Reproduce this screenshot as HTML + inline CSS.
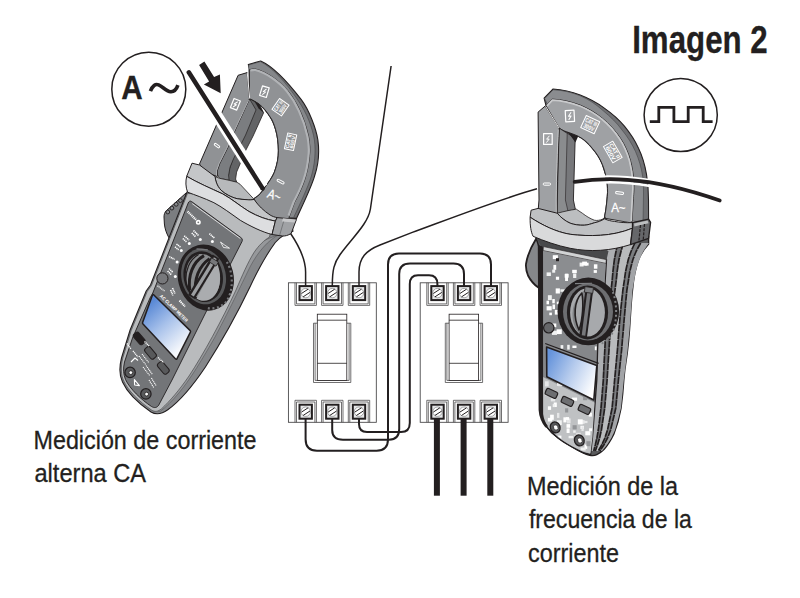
<!DOCTYPE html>
<html>
<head>
<meta charset="utf-8">
<title>Imagen 2</title>
<style>
html,body{margin:0;padding:0;background:#fff;}
body{width:800px;height:598px;overflow:hidden;font-family:"Liberation Sans",sans-serif;}
svg{display:block;position:absolute;left:0;top:0;}
text{font-family:"Liberation Sans",sans-serif;fill:#231f20;stroke:#231f20;stroke-width:0.3px;}
</style>
</head>
<body>
<svg width="800" height="598" viewBox="0 0 800 598">
<rect x="0" y="0" width="800" height="598" fill="#ffffff"/>

<!-- ================= TEXT ================= -->
<g id="texts">
<text x="632.2" y="52.5" font-size="38" font-weight="bold" textLength="135.5" lengthAdjust="spacingAndGlyphs">Imagen 2</text>
<text x="33.5" y="448.6" font-size="26.4" textLength="223" lengthAdjust="spacingAndGlyphs">Medición de corriente</text>
<text x="34.5" y="481.7" font-size="26.4" textLength="111.5" lengthAdjust="spacingAndGlyphs">alterna CA</text>
<text x="527" y="494.8" font-size="26.4" textLength="151" lengthAdjust="spacingAndGlyphs">Medición de la</text>
<text x="528.9" y="528.2" font-size="26.4" textLength="163" lengthAdjust="spacingAndGlyphs">frecuencia de la</text>
<text x="528" y="561.7" font-size="26.4" textLength="91" lengthAdjust="spacingAndGlyphs">corriente</text>
</g>

<!-- ================= SYMBOL CIRCLES ================= -->
<g id="symbols" fill="none" stroke="#231f20">
<circle cx="148.8" cy="89.2" r="37" stroke-width="1.5" fill="#fff"/>
<path d="M150.4,91.2 C152.5,85.5 155.5,83.6 158.6,84.9 C162.5,86.5 166.5,91.5 170.6,91.8 C174,92 176.6,89 177.9,85.2" stroke-width="3.6" stroke-linecap="butt"/>
<circle cx="680.7" cy="115" r="36.6" stroke-width="1.5" fill="#fff"/>
<path d="M649.8,121.6 H658.8 V107.3 H673.9 V121.6 H688.2 V107.3 H703.2 V121.6 H712.6" stroke-width="2.8" stroke-linejoin="miter"/>
</g>
<text x="121.2" y="98.6" font-size="33.6" font-weight="bold" textLength="21.4" lengthAdjust="spacingAndGlyphs">A</text>

<!-- ================= BREAKERS ================= -->
<g id="breakers">
<g transform="translate(288.4,282.8)"><rect x="0" y="0" width="87.9" height="139.5" fill="#fff" stroke="#414042" stroke-width="0.85"/><g fill="none" stroke="#414042" stroke-width="0.75"><path d="M6.6,0 V22.6 H28.0 V0 M8.1,0 V21.1 H26.5 V0"/><path d="M6.6,139.5 V117.5 H28.0 V139.5 M8.1,139.5 V119.2 H26.5 V139.5"/><path d="M33.2,0 V22.6 H54.6 V0 M34.7,0 V21.1 H53.1 V0"/><path d="M33.2,139.5 V117.5 H54.6 V139.5 M34.7,139.5 V119.2 H53.1 V139.5"/><path d="M59.9,0 V22.6 H81.3 V0 M61.4,0 V21.1 H79.8 V0"/><path d="M59.9,139.5 V117.5 H81.3 V139.5 M61.4,139.5 V119.2 H79.8 V139.5"/><path d="M25.1,40.4 V99.7 H62.4 V40.4 M25.1,40.4 H28.9 M62.4,40.4 H58.4 M26.7,40.4 V97.6 H60.7 V40.4"/></g><g transform="translate(17.3,10.3)"><rect x="-6.2" y="-7" width="12.4" height="14" fill="#e6e7e8" stroke="#231f20" stroke-width="2"/><circle cx="0" cy="0" r="4.7" fill="#fff" stroke="#58595b" stroke-width="0.5"/><path d="M-4.2,0.4 L2.4,-3.9 M-2.6,3.8 L4.3,-0.7" stroke="#231f20" stroke-width="1" fill="none"/></g><g transform="translate(17.3,128.9)"><rect x="-6.2" y="-7" width="12.4" height="14" fill="#e6e7e8" stroke="#231f20" stroke-width="2"/><circle cx="0" cy="0" r="4.7" fill="#fff" stroke="#58595b" stroke-width="0.5"/><path d="M-4.2,0.4 L2.4,-3.9 M-2.6,3.8 L4.3,-0.7" stroke="#231f20" stroke-width="1" fill="none"/></g><g transform="translate(43.9,10.3)"><rect x="-6.2" y="-7" width="12.4" height="14" fill="#e6e7e8" stroke="#231f20" stroke-width="2"/><circle cx="0" cy="0" r="4.7" fill="#fff" stroke="#58595b" stroke-width="0.5"/><path d="M-4.2,0.4 L2.4,-3.9 M-2.6,3.8 L4.3,-0.7" stroke="#231f20" stroke-width="1" fill="none"/></g><g transform="translate(43.9,128.9)"><rect x="-6.2" y="-7" width="12.4" height="14" fill="#e6e7e8" stroke="#231f20" stroke-width="2"/><circle cx="0" cy="0" r="4.7" fill="#fff" stroke="#58595b" stroke-width="0.5"/><path d="M-4.2,0.4 L2.4,-3.9 M-2.6,3.8 L4.3,-0.7" stroke="#231f20" stroke-width="1" fill="none"/></g><g transform="translate(70.6,10.3)"><rect x="-6.2" y="-7" width="12.4" height="14" fill="#e6e7e8" stroke="#231f20" stroke-width="2"/><circle cx="0" cy="0" r="4.7" fill="#fff" stroke="#58595b" stroke-width="0.5"/><path d="M-4.2,0.4 L2.4,-3.9 M-2.6,3.8 L4.3,-0.7" stroke="#231f20" stroke-width="1" fill="none"/></g><g transform="translate(70.6,128.9)"><rect x="-6.2" y="-7" width="12.4" height="14" fill="#e6e7e8" stroke="#231f20" stroke-width="2"/><circle cx="0" cy="0" r="4.7" fill="#fff" stroke="#58595b" stroke-width="0.5"/><path d="M-4.2,0.4 L2.4,-3.9 M-2.6,3.8 L4.3,-0.7" stroke="#231f20" stroke-width="1" fill="none"/></g><g fill="#fff" stroke="#231f20" stroke-width="0.8"><rect x="28.9" y="31.4" width="29.5" height="66.2"/><path d="M28.9,37.4 H58.4 M28.9,80.5 H58.4" fill="none"/></g></g>
<g transform="translate(420.2,282.8)"><rect x="0" y="0" width="87.9" height="139.5" fill="#fff" stroke="#414042" stroke-width="0.85"/><g fill="none" stroke="#414042" stroke-width="0.75"><path d="M6.6,0 V22.6 H28.0 V0 M8.1,0 V21.1 H26.5 V0"/><path d="M6.6,139.5 V117.5 H28.0 V139.5 M8.1,139.5 V119.2 H26.5 V139.5"/><path d="M33.2,0 V22.6 H54.6 V0 M34.7,0 V21.1 H53.1 V0"/><path d="M33.2,139.5 V117.5 H54.6 V139.5 M34.7,139.5 V119.2 H53.1 V139.5"/><path d="M59.9,0 V22.6 H81.3 V0 M61.4,0 V21.1 H79.8 V0"/><path d="M59.9,139.5 V117.5 H81.3 V139.5 M61.4,139.5 V119.2 H79.8 V139.5"/><path d="M25.1,40.4 V99.7 H62.4 V40.4 M25.1,40.4 H28.9 M62.4,40.4 H58.4 M26.7,40.4 V97.6 H60.7 V40.4"/></g><g transform="translate(17.3,10.3)"><rect x="-6.2" y="-7" width="12.4" height="14" fill="#e6e7e8" stroke="#231f20" stroke-width="2"/><circle cx="0" cy="0" r="4.7" fill="#fff" stroke="#58595b" stroke-width="0.5"/><path d="M-4.2,0.4 L2.4,-3.9 M-2.6,3.8 L4.3,-0.7" stroke="#231f20" stroke-width="1" fill="none"/></g><g transform="translate(17.3,128.9)"><rect x="-6.2" y="-7" width="12.4" height="14" fill="#e6e7e8" stroke="#231f20" stroke-width="2"/><circle cx="0" cy="0" r="4.7" fill="#fff" stroke="#58595b" stroke-width="0.5"/><path d="M-4.2,0.4 L2.4,-3.9 M-2.6,3.8 L4.3,-0.7" stroke="#231f20" stroke-width="1" fill="none"/></g><g transform="translate(43.9,10.3)"><rect x="-6.2" y="-7" width="12.4" height="14" fill="#e6e7e8" stroke="#231f20" stroke-width="2"/><circle cx="0" cy="0" r="4.7" fill="#fff" stroke="#58595b" stroke-width="0.5"/><path d="M-4.2,0.4 L2.4,-3.9 M-2.6,3.8 L4.3,-0.7" stroke="#231f20" stroke-width="1" fill="none"/></g><g transform="translate(43.9,128.9)"><rect x="-6.2" y="-7" width="12.4" height="14" fill="#e6e7e8" stroke="#231f20" stroke-width="2"/><circle cx="0" cy="0" r="4.7" fill="#fff" stroke="#58595b" stroke-width="0.5"/><path d="M-4.2,0.4 L2.4,-3.9 M-2.6,3.8 L4.3,-0.7" stroke="#231f20" stroke-width="1" fill="none"/></g><g transform="translate(70.6,10.3)"><rect x="-6.2" y="-7" width="12.4" height="14" fill="#e6e7e8" stroke="#231f20" stroke-width="2"/><circle cx="0" cy="0" r="4.7" fill="#fff" stroke="#58595b" stroke-width="0.5"/><path d="M-4.2,0.4 L2.4,-3.9 M-2.6,3.8 L4.3,-0.7" stroke="#231f20" stroke-width="1" fill="none"/></g><g transform="translate(70.6,128.9)"><rect x="-6.2" y="-7" width="12.4" height="14" fill="#e6e7e8" stroke="#231f20" stroke-width="2"/><circle cx="0" cy="0" r="4.7" fill="#fff" stroke="#58595b" stroke-width="0.5"/><path d="M-4.2,0.4 L2.4,-3.9 M-2.6,3.8 L4.3,-0.7" stroke="#231f20" stroke-width="1" fill="none"/></g><g fill="#fff" stroke="#231f20" stroke-width="0.8"><rect x="28.9" y="31.4" width="29.5" height="66.2"/><path d="M28.9,37.4 H58.4 M28.9,80.5 H58.4" fill="none"/></g></g>
</g>

<!-- WIRES placeholder -->
<g id="wires" fill="none" stroke="#231f20" stroke-linecap="butt">
<!-- thin leads -->
<g stroke-width="1.5">
<path d="M290.6,233.5 C297,243 305.6,258 305.6,272 V286"/>
<path d="M391.1,66 L370.4,209 C368,224 352,238 340.1,254.5 C334,263 332.3,270 332.3,286"/>
<path d="M537,188.8 C500,199 440,222.4 412.3,232.4 L380,245 C366,250.5 359,258 359,272 V286"/>
</g>
<!-- breaker interconnects -->
<g stroke-width="2">
<path d="M305.6,418 V439.3 Q305.6,450.7 317,450.7 H376.6 Q388,450.7 388,439.3 V264.5 Q388,253.5 399,253.5 H480 Q491,253.5 491,264.5 V286"/>
<path d="M332.2,418 V430 Q332.2,439.7 343,439.7 H389 Q399.2,439.7 399.2,429 V274 Q399.2,263.5 410,263.5 H453.5 Q464,263.5 464,274 V286"/>
<path d="M359,418 V424 Q359,432 367,432 H401 Q409.8,432 409.8,423 V284 Q409.8,275.2 418,275.2 H429 Q437.4,275.2 437.4,284 V286"/>
</g>
<!-- thick outputs -->
<g stroke-width="6">
<path d="M436.9,418.6 V495.7"/><path d="M463.6,418.6 V495.7"/><path d="M490.3,418.6 V495.7"/>
</g>
</g>

<!-- LEFT METER placeholder -->
<g id="leftmeter" stroke-linejoin="round">
<!-- grip -->
<path d="M186,193 L166.4,210.6 C164.6,212.4 164,214.5 164,217 L164.4,224 C164.8,228 166,232 168,236 L172,243 L186,215 Z" fill="#7b7d80" stroke="#231f20" stroke-width="1"/>
<g fill="#8a8c8f" stroke="#231f20" stroke-width="0.9">
<circle cx="180.4" cy="200.6" r="1.9"/><circle cx="176.2" cy="204.3" r="1.9"/><circle cx="171.9" cy="208.1" r="1.9"/><circle cx="167.8" cy="212" r="1.9"/>
</g>
<!-- body silhouette / side wall outer band -->
<path d="M187,192 L150.5,285 L146.2,291 L130.1,330 L121.5,358 C119,368 119.5,376 122.5,382 C127,392 138,403 151,412 C156,415 162,414 167.8,409.8 C180,401 192,387 205.4,367 C222,341 238,312 250.2,286.5 C257,272 266,255 275.3,242.5 C281,236 287,233 293,231.3 L291,222 L230,190 Z" fill="#85878a" stroke="#231f20" stroke-width="1.1"/>
<!-- side wall inner band -->
<path d="M280,234 C268,240 258,252 250.5,266 C243,281 232,305 215,337 C203,358 190,380 178,394 C172,401 166,407 160,411.5 L152,409 L240,250 Z" fill="#96989b" stroke="#4d4d4f" stroke-width="0.5"/>
<!-- top face -->
<path d="M187.5,193.5 L151.5,285.5 L147.2,291.5 L131.2,330.5 L122.8,358 C120.5,368 121,375 123.8,381 C128,390.5 139,401.5 151.5,410 C155,412.3 158,411.5 161.5,408.8 C170,401 179,390.5 189,376 C203,355 222,320 236,290 C242,276 248,262 254,252.5 C259,245 264,240.5 269.5,237 L272,225 L230,195 Z" fill="#b9bbbd" stroke="#3a3a3c" stroke-width="0.6"/>
<!-- dark panel -->
<path d="M191.5,201.5 C190,200.5 188.8,201.5 188.2,203 L152.8,293 L150,298 L132.5,338 L124.5,362 C123,369 123.3,374 125.5,379.5 C130,389 141,399.5 151.5,406.5 C154.5,408.3 157,407.8 158.8,405 L172,380 L205,314 L231.5,262 L242,241.5 C242.8,239.8 242.3,238.5 240.8,237.5 Z" fill="#737578" stroke="#231f20" stroke-width="0.9"/>
<path d="M192.2,203.6 L240.4,238.6" fill="none" stroke="#e6e7e8" stroke-width="0.9"/>
<!-- dial -->
<g>
<ellipse cx="205.8" cy="277.6" rx="27.8" ry="33.4" transform="rotate(-14 205.8 277.6)" fill="#231f20"/>
<ellipse cx="203.6" cy="276.4" rx="22.2" ry="28.2" transform="rotate(-12 203.6 276.4)" fill="#58595b"/>
<ellipse cx="203.2" cy="276.6" rx="19.6" ry="25.6" transform="rotate(-10 203.2 276.6)" fill="#231f20"/>
<ellipse cx="203" cy="276.8" rx="17" ry="23" transform="rotate(-8 203 276.8)" fill="#8a8c8e"/>
<!-- lighter lower-right half -->
<path d="M216.5,262 C221.5,272 221.5,287 215,295 C209.5,302 201.5,302 196.5,298.5 Z" fill="#aaacaf"/>
<!-- left arcs -->
<g fill="none" stroke="#231f20" stroke-width="3">
<path d="M204,255.6 C192.8,262 187.6,275.6 189.8,290.4"/>
<path d="M209.6,258.6 C198.6,266.4 194.2,279.4 195.4,294.4"/>
</g>
<path d="M198.6,254.4 C189.4,259.6 185,270.6 186,283" fill="none" stroke="#231f20" stroke-width="1.2"/>
<!-- pointer bar -->
<path d="M216,256.6 L191.4,297" stroke="#231f20" stroke-width="7.8" fill="none"/>
<path d="M215.3,258.2 L192.4,295.6" stroke="#9d9fa2" stroke-width="3.3" fill="none"/>
<path d="M211.6,257.8 L218.4,262 L216,266.2 L209.4,262 Z" fill="#77787b" stroke="#231f20" stroke-width="0.8"/>
<!-- knurl -->
<path d="M226.8,262 C233.3,272 233.8,291 226.3,301.5 C221.8,307 214.3,309.5 207.3,308" fill="none" stroke="#77787b" stroke-width="2.2" stroke-dasharray="2 2.6"/>
<path d="M196.5,248.8 L207.8,249.8" stroke="#77787b" stroke-width="1.2"/>
</g>
<!-- hold button -->
<circle cx="162.4" cy="278.4" r="5.6" fill="#77787b" stroke="#231f20" stroke-width="1"/>
<!-- white markings -->
<g fill="#fff" stroke="none">
<circle cx="200.3" cy="239.6" r="1.5"/><circle cx="189.3" cy="243.4" r="1.5"/><circle cx="181.3" cy="250.4" r="1.5"/><circle cx="212.4" cy="241.4" r="1.5"/><circle cx="177.1" cy="262" r="1.5"/><circle cx="175.3" cy="276.6" r="1.5"/>
</g>
<g fill="none" stroke="#fff" stroke-width="1.6">
<circle cx="198.3" cy="222.3" r="1.7"/>
<path d="M187.6,211.5 L196,219.8" stroke-width="2.2" stroke-dasharray="1.1 0.7"/>
<path d="M193.5,230.5 L198.5,235.5 M191.8,233 L195.8,237" stroke-dasharray="1.3 0.6"/>
<path d="M184.2,235.8 L189,240 M182.8,238.5 L186.4,241.8" stroke-dasharray="1.3 0.6"/>
<path d="M176.5,244 L181,247.6 M175,246.8 L178.6,249.8" stroke-dasharray="1.3 0.6"/>
<path d="M209.4,233.6 L214.6,238.2" stroke-width="1.6" stroke-dasharray="1.2 0.6"/>
<path d="M220.5,242 L223.5,247.5 L229.5,248.2 L224.8,245.2 Z" stroke-width="0.8"/>
<path d="M169.2,256.6 L174.6,259.4" stroke-width="1.6" stroke-dasharray="1.2 0.6"/>
<path d="M169,268.5 L173,272.5 M167.6,271 L171.6,275" stroke-dasharray="1.3 0.6"/>
<path d="M172.5,288 L175,293.5 M170.6,290 L173,295.5" stroke-dasharray="1.2 0.6"/>
<path d="M179.5,300.5 L185,306.6" stroke-width="2" stroke-dasharray="1.3 0.6"/>
<path d="M157.5,285.8 L164.5,291" stroke-width="1.2" stroke-dasharray="1 0.6"/>
</g>
<!-- AC CLAMP METER -->
<text transform="translate(159.6,296.6) rotate(44)" font-size="4.6" font-weight="bold" style="fill:#fff;stroke:none" textLength="37" lengthAdjust="spacingAndGlyphs">AC CLAMP METER</text>
<!-- LCD -->
<defs><linearGradient id="lcdL" gradientUnits="userSpaceOnUse" x1="148" y1="306" x2="184" y2="346">
<stop offset="0" stop-color="#5b8ad6"/><stop offset="0.45" stop-color="#a6c0ea"/><stop offset="1" stop-color="#f6f8fc"/></linearGradient></defs>
<path d="M153.6,294.8 C153.2,294.4 152.6,294.6 152.4,295.2 L142.6,322.4 C142.4,323 142.6,323.6 143,324 L175.6,359 C176,359.4 176.8,359.3 177,358.7 L190.4,332.2 C190.7,331.6 190.6,331 190.2,330.6 Z" fill="url(#lcdL)" stroke="#231f20" stroke-width="1.5"/>
<!-- buttons -->
<g stroke="#231f20" stroke-width="1">
<rect x="-6.6" y="-3.4" width="13.2" height="6.8" rx="2.4" transform="translate(139.2,338.4) rotate(50)" fill="#231f20"/>
<rect x="-6.6" y="-3.4" width="13.2" height="6.8" rx="2.4" transform="translate(150.5,352.8) rotate(50)" fill="#58595b"/>
<rect x="-6.6" y="-3.4" width="13.2" height="6.8" rx="2.4" transform="translate(163.3,367.9) rotate(50)" fill="#58595b"/>
</g>
<!-- jacks -->
<g>
<circle cx="130.1" cy="372.4" r="5.2" fill="#58595b" stroke="#231f20" stroke-width="1.2"/><circle cx="130.8" cy="372.6" r="1.9" fill="#fff" stroke="#231f20" stroke-width="0.8"/>
<circle cx="145.9" cy="393.9" r="5.2" fill="#58595b" stroke="#231f20" stroke-width="1.2"/><circle cx="146.6" cy="394.1" r="1.9" fill="#fff" stroke="#231f20" stroke-width="0.8"/>
</g>
<g fill="none" stroke="#fff" stroke-width="1.1">
<path d="M134.4,379.6 L139.4,385.6 L134.6,385 Z"/>
<path d="M131,362 L135,358 L138,360.5" />
<path d="M139,356 L146,365 M142,354 L149,363" stroke-dasharray="1.2 0.7"/>
<path d="M143,367 L150,376 M146,365.5 L152.5,374.5" stroke-dasharray="1.2 0.7"/>
<path d="M149,380 L154,388 M151.4,378 L156.4,386" stroke-dasharray="1.2 0.7"/>
<path d="M127,343.5 L131,349 M133,351 L138,357" stroke-width="1.4" stroke-dasharray="1.1 0.7"/>
<path d="M144.5,341.5 L149.5,346.5 M158,357.5 L163.5,362.5" stroke-width="1.4" stroke-dasharray="1.1 0.7"/>
</g>
<!-- ===== JAW ===== -->
<g stroke-linejoin="round">
<path d="M248.3,64.6 L260.7,61 C272,66 287,81 301.3,99.7 C309,110 316,128 317.9,140 C319.5,152 318,166 314.5,176.3 C311,188 303,204 296.5,218.4 L277,217.6 L254.3,198.4 C259,196 262,192 264.3,188.3 C269,182 272.5,177 274.4,172.2 C277,165 278.6,158 278.4,150.2 C278.3,143 277.5,136 275.7,129.8 C274,124 272.5,120 269.7,116.3 C267,112 263.5,107.5 259.2,104.2 C256,102 253,100 249.5,98.8 L250.1,71 Z" fill="#6f7073" stroke="#231f20" stroke-width="1.1"/>
<path d="M248.6,65 L260.4,61.6 C271.6,67 286,82 298.6,101.2 C306.5,112.5 312.6,128 314.4,140 C316,152 314.6,165 311.4,176 C308,187 300,204 293.6,217.5 L277,217.6 L254.3,198.4 C259,196 262,192 264.3,188.3 C269,182 272.5,177 274.4,172.2 C277,165 278.6,158 278.4,150.2 C278.3,143 277.5,136 275.7,129.8 C274,124 272.5,120 269.7,116.3 C267,112 263.5,107.5 259.2,104.2 C256,102 253,100 249.5,98.8 Z" fill="#85878a" stroke="#3a3a3c" stroke-width="0.5"/>
<path d="M249.4,69.6 L254.6,68.8 C262,70.5 267,73.5 272.7,77.1 C278.5,81 284,86 287.8,90.7 C292.5,96.5 297,104 299.8,110.2 C303,117 306.5,127 308.5,136.1 C310,144 310.2,150 309.5,156.2 C308.6,165 307,173 304.5,180.3 C302,188 298,196 294.5,202.4 L289.4,216.4 L288,222 L270,220 L256,208 L254.3,198.4 C259,196 262,192 264.3,188.3 C269,182 272.5,177 274.4,172.2 C277,165 278.6,158 278.4,150.2 C278.3,143 277.5,136 275.7,129.8 C274,124 272.5,120 269.7,116.3 C267,112 263.5,107.5 259.2,104.2 C256,102 253,100 249.5,98.8 Z" fill="#909295" stroke="#231f20" stroke-width="0.9"/>
<path d="M250.4,70.4 L254.6,69.8 C262,71.5 267,74.5 272.2,78 C278,82 283.5,87 287.1,91.5 C291.8,97.3 296.2,104.6 298.9,110.8 C302,117.5 305.6,127.5 307.5,136.4 C309,144 309.2,150 308.5,156.1 C307.6,165 306,173 303.5,180 C301,187.6 297,195.6 293.6,202 L288.6,215.5" fill="none" stroke="#b1b3b6" stroke-width="2.2"/>
<path d="M249.5,98.8 L259.2,104.2 L263.6,112.8 L253.1,136 L245.1,151.6 L239.6,165.1 L236.6,172.1 L235.6,179.1 L236.8,182.2 L228,181 L229,170 L236,150 Z" fill="#636466" stroke="#231f20" stroke-width="0.8"/>
<path d="M249.5,98.8 L256,109.9 L245.6,135 L241.1,144 L233.6,158.6 L230.1,167.1 L228.6,175.1 L229.1,180.3 L219.5,178.3 L216,172 L222,156 Z" fill="#7b7d80" stroke="#231f20" stroke-width="0.7"/>
<path d="M254.6,101.6 L259.2,104.2 L263.8,113 L258.6,108.4 Z" fill="#231f20"/>
<path d="M238.1,75.3 L247.1,72.6 L249.5,98.8 L234.3,132.1 L227.6,148 L220,163.1 L217.5,170.1 L217.3,176.5 L205,172 L199.5,164 Z" fill="#909295" stroke="#231f20" stroke-width="1"/>
<path d="M248.6,100.2 L233.5,132.5 L226.8,148.3 L219.2,163.4 L216.7,170.3 L216.5,175.6" fill="none" stroke="#b1b3b6" stroke-width="1"/>
<path d="M247.3,73 L249.7,98.6" fill="none" stroke="#eeeeef" stroke-width="1"/>
<path d="M215.1,176.6 L219.5,178.3 L229.1,180.3 L236.8,182.2 L240,184.2 L254.2,199.4 C251,200 249,199.9 247.2,199.7 C243.5,199.6 240.5,199.2 237.2,198.7 C233.5,197.8 230.8,196.6 228.1,195.2 C225.3,193.8 223,192 221.1,190.2 C219,188 217.5,185.6 216.6,183.1 C215.8,181 215.2,178.8 215.1,176.6 Z" fill="#b7b9bb" stroke="#231f20" stroke-width="0.8"/>
</g>
<g fill="none" stroke="#fff" stroke-width="1.2">
<g transform="translate(235.4,104.3) rotate(22)"><rect x="-3.4" y="-4.9" width="6.8" height="9.8"/><path d="M1.2,-3.2 L-1.2,0.2 L1.1,0 L-1.2,3.4" stroke-width="1"/></g>
<g transform="translate(264.4,91.7) rotate(17)"><rect x="-3.5" y="-5" width="7" height="10"/><path d="M1.2,-3.2 L-1.2,0.2 L1.1,0 L-1.2,3.4" stroke-width="1"/></g>
<g transform="translate(280.5,107.2) rotate(-55)"><rect x="-6.6" y="-5.8" width="13.2" height="11.6" stroke-width="1"/></g>
<g transform="translate(290.6,141.8) rotate(-78)"><rect x="-8" y="-4.6" width="16" height="9.2" stroke-width="1"/></g>
<rect x="-3" y="-1.1" width="6" height="2.2" rx="1.1" transform="translate(217,145.6) rotate(35)" stroke-width="1"/>
<rect x="-3.8" y="-1.1" width="7.6" height="2.2" rx="1.1" transform="translate(280.6,181.6) rotate(28)" stroke-width="1"/>
</g>
<text transform="translate(280.5,107.2) rotate(-55) translate(-5.6,-0.6)" font-size="5.6" font-weight="bold" style="fill:#fff;stroke:none" textLength="11.2" lengthAdjust="spacingAndGlyphs">CAT III</text>
<text transform="translate(280.5,107.2) rotate(-55) translate(-5,4.6)" font-size="5.6" font-weight="bold" style="fill:#fff;stroke:none" textLength="10" lengthAdjust="spacingAndGlyphs">300V</text>
<text transform="translate(290.6,141.8) rotate(-78) translate(-7,-0.4)" font-size="5" font-weight="bold" style="fill:#fff;stroke:none" textLength="14" lengthAdjust="spacingAndGlyphs">CAT II</text>
<text transform="translate(290.6,141.8) rotate(-78) translate(-6.4,3.8)" font-size="5" font-weight="bold" style="fill:#fff;stroke:none" textLength="12.8" lengthAdjust="spacingAndGlyphs">600V</text>
<text transform="translate(266.4,197) rotate(21)" font-size="13" style="fill:#fff;stroke:#fff;stroke-width:0.3px" textLength="13.5" lengthAdjust="spacingAndGlyphs">A~</text>
<path d="M205,97.8 L262.2,187.8" stroke="#fff" stroke-width="11" fill="none" transform="translate(0.5,-0.3)"/>
<!-- ===== COLLAR ===== -->
<g stroke-linejoin="round" stroke="#231f20">
<path d="M192,163.2 L199.5,165 L215.1,176.6 C215.2,178.8 215.8,181 216.6,183.1 C217.5,185.6 219,188 221.1,190.2 C223,192 225.3,193.8 228.1,195.2 C230.8,196.6 233.5,197.8 237.2,198.7 C240.5,199.2 243.5,199.6 247.2,199.7 C249,199.9 251,200 254.2,199.4 C256.5,203 259,205.6 261.3,208 C264,210.6 267,213 270.1,215 C272.5,216.4 274.8,217.2 277.1,217.6 L275.4,221.1 C266,219.5 258,216.5 249,211.5 C240,206 232,199 222.7,193.9 C210,188 198,183 186.7,176.3 Z" fill="#c4c6c8" stroke-width="1"/>
<path d="M186.7,176.3 C198,183 210,188 222.7,193.9 C232,199 240,206 249,211.5 C258,216.5 266,219.5 275.4,221.1 L272,234.5 C262,232 250,226 240.3,220.3 C230,213 222,207 213.9,202.7 C204,198 195,195 187.6,192.2 C185.5,187 185.5,181 186.7,176.3 Z" fill="#dddee0" stroke-width="1"/>
<path d="M277.1,217.6 L296.5,219.4 L291.2,233.4 C288,235.5 285,236.2 282.4,236 L272,234.5 L275.4,221.1 Z" fill="#a0a2a5" stroke-width="1"/>
<path d="M283,218.3 L295.8,219.6 L294.6,222.6 L282,221.4 Z" fill="#c7c8ca" stroke="none"/>
<path d="M283.6,221.6 L279.6,235.4" fill="none" stroke="#58595b" stroke-width="0.6"/>
</g>
<path d="M188.8,72.3 L262.6,188.4" stroke="#231f20" stroke-width="4.5" stroke-linecap="round" fill="none"/>
<path d="M260.2,189.4 L265.4,186.4 L263.6,190.8 Z" fill="#231f20"/>
<path d="M199.1,65.1 L204.4,61.5 L214.1,77.1 L219.9,74.6 L220.7,93.2 L203.9,84.6 L209.1,81.6 Z" fill="#231f20"/>
</g>


<!-- RIGHT METER placeholder -->
<g id="rightmeter" stroke-linejoin="round">
<!-- grip -->
<path d="M536,239 C531,247 527.2,256 526,264 C525.6,268 526.6,272 528,275.5 C530.6,280.6 534,284.4 538,287.4 L541,280 L541,244 Z" fill="#85878a" stroke="#231f20" stroke-width="1.8"/>
<!-- body silhouette -->
<path d="M536,238 L540,250 L540.7,380 L542.1,415.5 C543,419 544,422.5 545.6,425.5 C549,430 553,434.5 558.4,438.3 C564,442.5 570,446 576.9,449.6 C581,452 586,454.5 589.7,455.3 C592.5,456 595,455.6 596.8,454.6 C599.5,453.4 602,451.6 603.9,449.6 C608,445 611.5,439 613.9,434 C617,426 619.5,417 621,408.4 C622.3,399 623.2,390 623.8,380 C625,364 626.6,360 627.6,350 C628.5,343 629,337 629.5,330 C630.5,316 631,303 632.5,290.2 C633.5,279 635.5,268 638.5,260.1 C641,253 645,248 648.6,244.1 L648.6,236 Z" fill="#58595b" stroke="#231f20" stroke-width="1.4"/>
<path d="M607.5,243.0 L607.5,247.0 L607.4,251.0 L607.0,255.0 L606.5,259.5 L606.2,265.0 L605.7,272.0 L605.2,280.0 L604.3,290.0 L602.5,300.0 L600.8,310.0 L599.6,320.0 L598.4,330.0 L598.0,340.0 L597.6,350.0 L597.2,365.0 L596.8,380.0 L595.7,395.0 L594.7,408.0 L593.8,420.0 L593.0,430.0 L592.4,438.0 L591.7,445.0 L591.1,451.0 L593.7,451.0 L595.3,445.0 L596.9,438.0 L598.3,430.0 L599.6,420.0 L601.0,408.0 L602.1,395.0 L603.3,380.0 L604.0,365.0 L604.8,350.0 L605.3,340.0 L605.9,330.0 L607.0,320.0 L608.0,310.0 L609.6,300.0 L611.1,290.0 L612.2,280.0 L612.9,272.0 L613.7,265.0 L614.4,259.5 L615.3,255.0 L616.1,251.0 L616.8,247.0 L617.5,243.0 Z" fill="#adafb2"/>
<path d="M617.5,243.0 L616.8,247.0 L616.1,251.0 L615.3,255.0 L614.4,259.5 L613.7,265.0 L612.9,272.0 L612.2,280.0 L611.1,290.0 L609.6,300.0 L608.0,310.0 L607.0,320.0 L605.9,330.0 L605.3,340.0 L604.8,350.0 L604.0,365.0 L603.3,380.0 L602.1,395.0 L601.0,408.0 L599.6,420.0 L598.3,430.0 L596.9,438.0 L595.3,445.0 L593.7,451.0 L595.3,451.0 L597.5,445.0 L599.6,438.0 L601.4,430.0 L602.9,420.0 L604.7,408.0 L605.8,395.0 L607.1,380.0 L608.0,365.0 L609.0,350.0 L609.6,340.0 L610.2,330.0 L611.2,320.0 L612.3,310.0 L613.6,300.0 L615.0,290.0 L616.3,280.0 L617.1,272.0 L618.1,265.0 L619.0,259.5 L620.1,255.0 L621.1,251.0 L622.2,247.0 L623.3,243.0 Z" fill="#747578"/>
<path d="M623.3,243.0 L622.2,247.0 L621.1,251.0 L620.1,255.0 L619.0,259.5 L618.1,265.0 L617.1,272.0 L616.3,280.0 L615.0,290.0 L613.6,300.0 L612.3,310.0 L611.2,320.0 L610.2,330.0 L609.6,340.0 L609.0,350.0 L608.0,365.0 L607.1,380.0 L605.8,395.0 L604.7,408.0 L602.9,420.0 L601.4,430.0 L599.6,438.0 L597.5,445.0 L595.3,451.0 L598.3,451.0 L601.7,445.0 L604.9,438.0 L607.5,430.0 L609.6,420.0 L612.1,408.0 L613.3,395.0 L614.6,380.0 L616.0,365.0 L617.4,350.0 L618.2,340.0 L618.9,330.0 L619.8,320.0 L620.7,310.0 L621.8,300.0 L622.9,290.0 L624.4,280.0 L625.5,272.0 L627.0,265.0 L628.3,259.5 L629.8,255.0 L631.2,251.0 L633.0,247.0 L634.9,243.0 Z" fill="#b9bbbd"/>
<path d="M634.9,243.0 L633.0,247.0 L631.2,251.0 L629.8,255.0 L628.3,259.5 L627.0,265.0 L625.5,272.0 L624.4,280.0 L622.9,290.0 L621.8,300.0 L620.7,310.0 L619.8,320.0 L618.9,330.0 L618.2,340.0 L617.4,350.0 L616.0,365.0 L614.6,380.0 L613.3,395.0 L612.1,408.0 L609.6,420.0 L607.5,430.0 L604.9,438.0 L601.7,445.0 L598.3,451.0 L599.8,451.0 L603.8,445.0 L607.5,438.0 L610.6,430.0 L613.0,420.0 L615.8,408.0 L617.0,395.0 L618.4,380.0 L620.0,365.0 L621.6,350.0 L622.4,340.0 L623.3,330.0 L624.1,320.0 L625.0,310.0 L625.9,300.0 L626.9,290.0 L628.5,280.0 L629.7,272.0 L631.4,265.0 L632.9,259.5 L634.6,255.0 L636.3,251.0 L638.4,247.0 L640.7,243.0 Z" fill="#7b7d80"/>
<path d="M640.7,243.0 L638.4,247.0 L636.3,251.0 L634.6,255.0 L632.9,259.5 L631.4,265.0 L629.7,272.0 L628.5,280.0 L626.9,290.0 L625.9,300.0 L625.0,310.0 L624.1,320.0 L623.3,330.0 L622.4,340.0 L621.6,350.0 L620.0,365.0 L618.4,380.0 L617.0,395.0 L615.8,408.0 L613.0,420.0 L610.6,430.0 L607.5,438.0 L603.8,445.0 L599.8,451.0 L602.0,451.0 L606.8,445.0 L611.3,438.0 L615.0,430.0 L617.8,420.0 L621.0,408.0 L622.3,395.0 L623.8,380.0 L625.7,365.0 L627.6,350.0 L628.5,340.0 L629.5,330.0 L630.3,320.0 L631.0,310.0 L631.8,300.0 L632.5,290.0 L634.3,280.0 L635.7,272.0 L637.7,265.0 L639.5,259.5 L641.5,255.0 L643.5,251.0 L646.1,247.0 L649.0,243.0 Z" fill="#a2a4a7"/>
<path d="M617.5,243.0 L616.8,247.0 L616.1,251.0 L615.3,255.0 L614.4,259.5 L613.7,265.0 L612.9,272.0 L612.2,280.0 L611.1,290.0 L609.6,300.0 L608.0,310.0 L607.0,320.0 L605.9,330.0 L605.3,340.0 L604.8,350.0 L604.0,365.0 L603.3,380.0 L602.1,395.0 L601.0,408.0 L599.6,420.0 L598.3,430.0 L596.9,438.0 L595.3,445.0 L593.7,451.0" fill="none" stroke="#231f20" stroke-width="1.7" stroke-dasharray="7 0.6"/>
<path d="M623.3,243.0 L622.2,247.0 L621.1,251.0 L620.1,255.0 L619.0,259.5 L618.1,265.0 L617.1,272.0 L616.3,280.0 L615.0,290.0 L613.6,300.0 L612.3,310.0 L611.2,320.0 L610.2,330.0 L609.6,340.0 L609.0,350.0 L608.0,365.0 L607.1,380.0 L605.8,395.0 L604.7,408.0 L602.9,420.0 L601.4,430.0 L599.6,438.0 L597.5,445.0 L595.3,451.0" fill="none" stroke="#231f20" stroke-width="1.7" stroke-dasharray="7 0.6"/>
<path d="M634.9,243.0 L633.0,247.0 L631.2,251.0 L629.8,255.0 L628.3,259.5 L627.0,265.0 L625.5,272.0 L624.4,280.0 L622.9,290.0 L621.8,300.0 L620.7,310.0 L619.8,320.0 L618.9,330.0 L618.2,340.0 L617.4,350.0 L616.0,365.0 L614.6,380.0 L613.3,395.0 L612.1,408.0 L609.6,420.0 L607.5,430.0 L604.9,438.0 L601.7,445.0 L598.3,451.0" fill="none" stroke="#231f20" stroke-width="1.7" stroke-dasharray="7 0.6"/>
<path d="M640.7,243.0 L638.4,247.0 L636.3,251.0 L634.6,255.0 L632.9,259.5 L631.4,265.0 L629.7,272.0 L628.5,280.0 L626.9,290.0 L625.9,300.0 L625.0,310.0 L624.1,320.0 L623.3,330.0 L622.4,340.0 L621.6,350.0 L620.0,365.0 L618.4,380.0 L617.0,395.0 L615.8,408.0 L613.0,420.0 L610.6,430.0 L607.5,438.0 L603.8,445.0 L599.8,451.0" fill="none" stroke="#231f20" stroke-width="1.7" stroke-dasharray="7 0.6"/>
<!-- front face -->
<path d="M541.5,246 L606.5,259.5 L604.8,287 C603,300 601.5,315 598.4,330 L597.6,350 L596.8,380 L594.7,408.4 L592.5,436.9 L590.5,454.6 C586,454 581,452 576.9,449.6 C570,446 564,442.5 558.4,438.3 C553,434 549,430 545.6,425.5 C543.5,422 542.3,418 542.1,415.5 L541.5,330 Z" fill="#85878a" stroke="#231f20" stroke-width="1.3"/>
<path d="M543,377 L594.5,402.5 L592.5,436.9 L590.5,453.6 C586,453 581,451 576.9,448.6 C570,445 564,441.5 558.9,437.5 C553.6,433.2 549.8,429.4 546.5,425 C544.4,421.6 543.3,418 543.1,415.5 Z" fill="#bfc1c3"/>
<path d="M536.5,238 L541.5,246.5 L606.5,260 L608.5,251 L570,248 Z" fill="#48494b"/>
<path d="M543.5,246.6 L606.2,259.6 L606,263.4 L543.2,250.6 Z" fill="#d1d3d4" stroke="#231f20" stroke-width="0.6"/>
<path d="M543.4,251 L605.8,263.8 L604.4,286.5 L560,300 L543.6,330 Z" fill="#8b8d90"/>
<clipPath id="faceclip"><path d="M543.5,247 L605.5,260 L603.8,287 C602,300 600.5,315 597.4,330 L596.6,350 L595.8,380 L593.7,408.4 L591.5,436.9 L589.8,452.6 C586,452.5 581,450.5 576.9,448.2 C570,444.6 564,441 558.9,437 C553.8,433 550,429.2 546.8,424.8 C544.8,421.6 543.6,418 543.4,415.5 L543,330 Z"/></clipPath>
<g clip-path="url(#faceclip)">
<rect x="546.5" y="300.7" width="2.5" height="3.6" fill="#ffffff"/>
<rect x="546.6" y="306.2" width="5.1" height="4.2" fill="#ffffff"/>
<rect x="567.2" y="344.8" width="2.5" height="4.8" fill="#f1f2f2"/>
<rect x="584.6" y="262.7" width="4.0" height="2.9" fill="#ffffff"/>
<rect x="546.6" y="272.4" width="4.3" height="3.6" fill="#f1f2f2"/>
<rect x="565.1" y="276.4" width="2.9" height="4.6" fill="#ffffff"/>
<rect x="560.6" y="345.1" width="2.7" height="3.6" fill="#f1f2f2"/>
<rect x="552.3" y="299.0" width="2.5" height="4.3" fill="#ffffff"/>
<rect x="560.4" y="289.3" width="4.3" height="2.5" fill="#f1f2f2"/>
<rect x="573.1" y="273.5" width="3.2" height="4.5" fill="#f1f2f2"/>
<rect x="547.9" y="295.2" width="3.9" height="4.9" fill="#f1f2f2"/>
<rect x="552.2" y="269.6" width="3.0" height="3.1" fill="#f1f2f2"/>
<rect x="593.7" y="270.1" width="3.2" height="2.8" fill="#ffffff"/>
<rect x="549.3" y="312.6" width="2.6" height="2.6" fill="#ffffff"/>
<rect x="579.6" y="262.6" width="4.0" height="3.9" fill="#f1f2f2"/>
<rect x="555.7" y="288.4" width="4.2" height="5.1" fill="#ffffff"/>
<rect x="594.8" y="346.4" width="3.7" height="3.8" fill="#ffffff"/>
<rect x="551.8" y="323.5" width="4.5" height="3.7" fill="#ffffff"/>
<rect x="552.8" y="255.2" width="5.1" height="3.9" fill="#ffffff"/>
<rect x="582.2" y="261.6" width="4.8" height="3.9" fill="#ffffff"/>
<rect x="564.7" y="273.9" width="3.9" height="3.8" fill="#ffffff"/>
<rect x="556.6" y="329.3" width="5.2" height="4.8" fill="#ffffff"/>
<rect x="556.8" y="301.7" width="3.4" height="2.5" fill="#ffffff"/>
<rect x="554.8" y="309.9" width="3.4" height="4.7" fill="#ffffff"/>
<rect x="565.2" y="273.7" width="3.0" height="3.0" fill="#ffffff"/>
<rect x="572.4" y="345.6" width="4.1" height="2.4" fill="#ffffff"/>
<rect x="593.9" y="264.3" width="3.5" height="4.4" fill="#ffffff"/>
<rect x="572.2" y="269.8" width="4.6" height="3.3" fill="#ffffff"/>
<rect x="553.4" y="264.9" width="2.8" height="4.9" fill="#ffffff"/>
<rect x="551.9" y="330.7" width="5.1" height="4.2" fill="#f1f2f2"/>
<rect x="552.5" y="304.5" width="2.5" height="4.6" fill="#ffffff"/>
<rect x="555.9" y="276.7" width="3.2" height="3.1" fill="#ffffff"/>
<rect x="578.1" y="438.7" width="3.8" height="4.7" fill="#e6e7e8"/>
<rect x="549.9" y="390.9" width="3.7" height="4.8" fill="#f1f2f2"/>
<rect x="575.3" y="435.9" width="2.6" height="2.6" fill="#e6e7e8"/>
<rect x="581.4" y="420.1" width="3.2" height="3.8" fill="#e6e7e8"/>
<rect x="568.6" y="435.9" width="4.8" height="2.4" fill="#f1f2f2"/>
<rect x="557.7" y="435.6" width="3.7" height="3.9" fill="#ffffff"/>
<rect x="566.5" y="424.1" width="3.7" height="3.7" fill="#ffffff"/>
<rect x="567.0" y="418.4" width="3.6" height="5.0" fill="#e6e7e8"/>
<rect x="556.8" y="420.3" width="5.0" height="4.7" fill="#f1f2f2"/>
<rect x="565.1" y="408.3" width="3.1" height="4.2" fill="#939598"/>
<rect x="584.5" y="444.6" width="2.7" height="4.3" fill="#ffffff"/>
<rect x="565.9" y="417.1" width="3.2" height="2.8" fill="#ffffff"/>
<rect x="547.9" y="406.3" width="3.2" height="3.6" fill="#ffffff"/>
<rect x="563.4" y="417.3" width="3.1" height="5.1" fill="#ffffff"/>
<rect x="557.1" y="382.9" width="4.5" height="3.0" fill="#f1f2f2"/>
<rect x="586.4" y="441.2" width="4.2" height="5.0" fill="#939598"/>
<rect x="573.2" y="430.4" width="2.5" height="2.4" fill="#f1f2f2"/>
<rect x="588.7" y="412.7" width="3.2" height="3.9" fill="#ffffff"/>
<rect x="580.6" y="447.5" width="5.1" height="3.0" fill="#f1f2f2"/>
<rect x="553.7" y="402.5" width="3.1" height="4.5" fill="#ffffff"/>
<rect x="566.6" y="428.4" width="3.0" height="4.6" fill="#ffffff"/>
<rect x="545.0" y="381.3" width="3.7" height="5.1" fill="#e6e7e8"/>
<rect x="568.2" y="447.3" width="2.5" height="4.7" fill="#939598"/>
<rect x="577.8" y="419.3" width="4.9" height="5.1" fill="#ffffff"/>
<rect x="580.5" y="425.8" width="3.4" height="3.2" fill="#ffffff"/>
<rect x="576.1" y="443.3" width="3.5" height="2.4" fill="#939598"/>
<rect x="589.1" y="428.3" width="3.0" height="2.9" fill="#ffffff"/>
<rect x="545.4" y="393.3" width="3.0" height="2.2" fill="#ffffff"/>
<rect x="572.0" y="397.6" width="5.1" height="3.1" fill="#ffffff"/>
<rect x="552.7" y="404.1" width="2.5" height="3.0" fill="#f1f2f2"/>
<rect x="550.6" y="422.2" width="3.4" height="3.1" fill="#f1f2f2"/>
<rect x="574.6" y="435.0" width="4.4" height="3.7" fill="#ffffff"/>
<rect x="581.4" y="426.3" width="2.3" height="4.7" fill="#e6e7e8"/>
<rect x="576.2" y="432.8" width="4.6" height="2.6" fill="#e6e7e8"/>
<rect x="582.9" y="420.9" width="4.6" height="2.2" fill="#e6e7e8"/>
<rect x="585.3" y="431.2" width="5.1" height="4.1" fill="#ffffff"/>
<rect x="544.7" y="389.6" width="3.3" height="2.5" fill="#939598"/>
<rect x="572.6" y="425.2" width="4.1" height="4.2" fill="#939598"/>
<rect x="557.0" y="412.9" width="2.4" height="5.0" fill="#e6e7e8"/>
<rect x="547.9" y="417.9" width="4.4" height="3.6" fill="#ffffff"/>
<rect x="583.1" y="396.6" width="4.1" height="3.6" fill="#939598"/>
<rect x="558.2" y="383.4" width="4.1" height="2.8" fill="#e6e7e8"/>
<rect x="550.8" y="398.3" width="4.4" height="3.1" fill="#e6e7e8"/>
<rect x="550.1" y="414.7" width="3.7" height="5.1" fill="#ffffff"/>
</g>
<rect x="556" y="258.2" width="3" height="3" fill="#231f20"/>
<path d="M537.8,244.5 L543,247.2 L543.1,414 C543.6,419 545.6,423 548,426.2 L545.4,427.6 C541.6,422.6 539,417 538.6,410 Z" fill="#231f20"/>
<g>
<ellipse cx="588.3" cy="311.4" rx="30.8" ry="33.8" fill="#231f20"/>
<ellipse cx="588" cy="311.8" rx="25" ry="28.6" fill="#6d6e71"/>
<ellipse cx="587.5" cy="312.4" rx="20.6" ry="27" fill="#231f20"/>
<ellipse cx="587.5" cy="312.4" rx="17.4" ry="24.2" fill="#a7a9ac"/>
<path d="M587,288.2 C576.5,295.5 571.5,306 572.6,318 C573.6,327 578,334 583.2,336.6 Z" fill="#808285"/>
<path d="M581.8,293 C574.2,301 572.8,316.5 579,330 C582.8,320 583.8,302 581.8,293 Z" fill="#a7a9ac" stroke="#231f20" stroke-width="1.6"/>
<path d="M589.6,288 L583,337.4" stroke="#231f20" stroke-width="7.8" fill="none"/>
<path d="M589.3,290 L583.5,335.6" stroke="#77787b" stroke-width="3.6" fill="none"/>
<path d="M585,286.6 L593.4,287.8 L592.8,293.4 L584.4,292.2 Z" fill="#808285" stroke="#231f20" stroke-width="0.8"/>
<path d="M612.8,292 C617.3,303 617.3,322 612.3,333 C609.3,339 605.3,342.5 600.3,344" fill="none" stroke="#808285" stroke-width="2" stroke-dasharray="2 2.6"/>
<path d="M575,283.6 L592,283.2" stroke="#808285" stroke-width="1.1"/>
</g>
<circle cx="548.8" cy="327.8" r="5.2" fill="#66676a" stroke="#231f20" stroke-width="1.2"/>
<defs><linearGradient id="lcdR" gradientUnits="userSpaceOnUse" x1="547" y1="360" x2="596" y2="384"><stop offset="0" stop-color="#6694db"/><stop offset="0.5" stop-color="#b7cced"/><stop offset="1" stop-color="#ffffff"/></linearGradient></defs>
<path d="M546.6,347 L596.8,365.6 L593.8,400 L546.8,376.8 Z" fill="url(#lcdR)" stroke="#231f20" stroke-width="1.6"/>
<path d="M545.2,343.5 L598.6,363.4" fill="none" stroke="#231f20" stroke-width="1.2"/>
<rect x="-6" y="-3.3" width="12" height="6.6" rx="1.6" transform="translate(551.4,393.4) rotate(25)" fill="#6d6e71" stroke="#231f20" stroke-width="1.2"/>
<rect x="-6" y="-3.3" width="12" height="6.6" rx="1.6" transform="translate(567.4,401.4) rotate(25)" fill="#6d6e71" stroke="#231f20" stroke-width="1.2"/>
<rect x="-6" y="-3.3" width="12" height="6.6" rx="1.6" transform="translate(584.4,409.4) rotate(25)" fill="#6d6e71" stroke="#231f20" stroke-width="1.2"/>
<ellipse cx="555.2" cy="427.4" rx="4.8" ry="5.6" fill="#58595b" stroke="#231f20" stroke-width="1.3" transform="rotate(-25 555.2 427.4)"/>
<ellipse cx="555.7" cy="427.7" rx="2.2" ry="2.8" fill="#fff" stroke="#231f20" stroke-width="0.7" transform="rotate(-25 555.2 427.4)"/>
<ellipse cx="579.3" cy="440.4" rx="4.8" ry="5.6" fill="#58595b" stroke="#231f20" stroke-width="1.3" transform="rotate(-25 579.3 440.4)"/>
<ellipse cx="579.8" cy="440.7" rx="2.2" ry="2.8" fill="#fff" stroke="#231f20" stroke-width="0.7" transform="rotate(-25 579.3 440.4)"/>
<!-- right arm silhouette -->
<path d="M544.1,98.1 L553.1,89 C563,89.5 572,91.8 580.2,95.1 C589,98.5 597,102.8 604.3,108.1 C612,113.5 619,119.5 624.4,126.2 C630,133 635,140.5 638.5,148.3 C642.5,156.5 645,165.5 646.5,174.4 C648,183 648.5,191 648.5,200 L648.6,222 L604.4,218.2 C605.6,212 606.5,206 607,200 C607.6,195 607.8,190 607.3,184.4 C606.6,178 604.8,170.5 602.3,164.3 C600,158.5 596.5,153 592.3,148.3 C588.5,143.5 584,139 578.2,136.2 C570,132.5 561,130.5 559.2,128.2 L546,105.7 Z" fill="#707174" stroke="#231f20" stroke-width="1.1"/>
<path d="M544.6,98.6 L553.2,89.8 C563,90.2 572,92.4 580.2,95.8 C588.8,99.4 596.4,104.6 603,110.6 C610.5,116.8 617,123 622,130 C627.5,136.6 632,144 635.5,151.5 C639,159.5 641.4,168 642.6,176 C643.6,184 643.6,192 643.4,200 L643,222 L604.4,218.2 C605.6,212 606.5,206 607,200 C607.6,195 607.8,190 607.3,184.4 C606.6,178 604.8,170.5 602.3,164.3 C600,158.5 596.5,153 592.3,148.3 C588.5,143.5 584,139 578.2,136.2 C570,132.5 561,130.5 559.2,128.2 Z" fill="#8a8c8f" stroke="#3a3a3c" stroke-width="0.5"/>
<!-- front face -->
<path d="M546,105.7 L552.1,99.1 C562,99.5 571.5,101.8 580.2,105.1 C588.5,108.5 596,113 602.3,118.2 C609.5,124 615.5,130.8 620.4,138.2 C625,145 628.2,152.5 630.4,160.3 C632.4,167.5 633.4,175 633.8,182 C634.2,190 633.6,195 633.2,200 L632,223 L604.4,218.2 L604.4,218.2 C605.6,212 606.5,206 607,200 C607.6,195 607.8,190 607.3,184.4 C606.6,178 604.8,170.5 602.3,164.3 C600,158.5 596.5,153 592.3,148.3 C588.5,143.5 584,139 578.2,136.2 C570,132.5 561,130.5 559.2,128.2 Z" fill="#9fa1a4" stroke="#231f20" stroke-width="0.9"/>
<path d="M547,105.9 L552.4,100.1 C562,100.5 571.2,102.8 579.8,106 C588,109.4 595.4,113.8 601.7,119 C608.8,124.8 614.7,131.4 619.5,138.8 C624,145.5 627.2,153 629.4,160.6 C631.4,167.8 632.4,175.2 632.8,182 C633.2,190 632.6,195 632.2,200 L631.2,221" fill="none" stroke="#c9cacc" stroke-width="1.7"/>
<!-- left arm inner wall -->
<path d="M559.2,128.2 L575.2,138.2 L573.4,200 L575.3,209 L566,214 L557,214 Z" fill="#77787b" stroke="#231f20" stroke-width="0.9"/>
<path d="M559.2,128.2 L567.2,133.4 L565.4,200 L568.2,212 L557,214 Z" fill="#8a8c8e" stroke="#231f20" stroke-width="0.6"/>
<path d="M566,131.6 L578.2,136.2 L575.4,142.4 L570.4,135.4 Z" fill="#231f20"/>
<!-- left arm front face -->
<path d="M538.1,112.1 L545.1,106.1 L559.2,128.2 C558.2,150 557.4,175 557.1,200 L557.2,214 L538,212 L539,200 Z" fill="#9fa1a4" stroke="#231f20" stroke-width="1"/>
<path d="M558.3,129.5 C557.4,151 556.5,175 556.2,200 L556.3,213" fill="none" stroke="#c7c8ca" stroke-width="0.9"/>
<path d="M545.6,106.4 L559,128" fill="none" stroke="#f1f2f2" stroke-width="0.9"/>
<!-- seat -->
<path d="M557.2,213.2 C564,211.5 570,210 576.3,209.2 L582.3,213.2 C586,216 590,218.6 594.3,220.2 C597,220.8 600,220.2 602.4,219.2 L605.4,217.2 L604.4,218.8 C601,221 598,222 594.3,222.8 C591,223.8 588,225 584.3,225.2 C579,225.4 574,224.6 570.2,223.2 C565,221 561,217.5 557.2,213.2 Z" fill="#bcbec0" stroke="#231f20" stroke-width="0.8"/>
<g fill="none" stroke="#fff" stroke-width="1.2">
<rect x="543.6" y="133.6" width="8.6" height="10.8"/>
<path d="M549.4,135.8 L546.6,139.2 L549.2,139 L546.4,142.6" stroke-width="1"/>
<g transform="translate(569.9,116) rotate(-3)"><rect x="-4.4" y="-5.6" width="8.8" height="11.2"/><path d="M1.4,-3.6 L-1.4,0.2 L1.2,0 L-1.4,3.8" stroke-width="1"/></g>
<g transform="translate(590.2,124.6) rotate(25)"><rect x="-7.4" y="-6.6" width="14.8" height="13.2" stroke-width="1"/></g>
<g transform="translate(612.8,152) rotate(60)"><rect x="-9.4" y="-5.4" width="18.8" height="10.8" stroke-width="1"/></g>
<rect x="543.2" y="183" width="7.4" height="2.2" rx="1.1" stroke-width="1"/>
<rect x="-4" y="-1.1" width="8" height="2.2" rx="1.1" transform="translate(619.6,193) rotate(6)" stroke-width="1"/>
</g>
<text transform="translate(590.2,124.6) rotate(25) translate(-6.2,-0.6)" font-size="6.2" font-weight="bold" style="fill:#fff;stroke:none" textLength="12.4" lengthAdjust="spacingAndGlyphs">CAT III</text>
<text transform="translate(590.2,124.6) rotate(25) translate(-5.6,5.2)" font-size="6.2" font-weight="bold" style="fill:#fff;stroke:none" textLength="11.2" lengthAdjust="spacingAndGlyphs">300V</text>
<text transform="translate(612.8,152) rotate(60) translate(-8.2,-0.4)" font-size="5.6" font-weight="bold" style="fill:#fff;stroke:none" textLength="16.4" lengthAdjust="spacingAndGlyphs">CAT II</text>
<text transform="translate(612.8,152) rotate(60) translate(-7.4,4.4)" font-size="5.6" font-weight="bold" style="fill:#fff;stroke:none" textLength="14.8" lengthAdjust="spacingAndGlyphs">600V</text>
<text x="611.2" y="212.2" font-size="13" style="fill:#fff;stroke:#fff;stroke-width:0.3px" textLength="14.4" lengthAdjust="spacingAndGlyphs">A~</text>
<g stroke="#231f20" stroke-linejoin="round">
<path d="M531.1,210.2 L538.1,208.4 L557.2,213.2 C561,217.5 565,221 570.2,223.2 C574,224.6 579,225.4 584.3,225.2 C588,225 591,223.8 594.3,222.8 C598,222 601,221 604.4,218.8 C608,220.4 611,221 614.4,221.4 C620,222.4 626,223 632.5,222.6 L632.5,228.2 C622,232.5 611,234.6 600.4,235.3 C590,235.8 580,235.6 570.2,234.3 C556,232 542,225 530.1,217.2 Z" fill="#bfc1c3" stroke-width="1"/>
<path d="M530.1,217.2 C542,225 556,232 570.2,234.3 C580,235.6 590,235.8 600.4,235.3 C611,234.6 622,232.5 632.5,228.2 L630.5,244.6 C621,247.6 611,249.6 600.4,250.3 C590,251 580,250.2 570.2,248.3 C557,245.6 544,241 533.1,236.3 C531,232 530,226 530.1,217.2 Z" fill="#d9dadb" stroke-width="1"/>
<path d="M632.5,222.6 L648.6,219.2 L650.6,222.4 L648.6,238.3 L630.5,244.6 L632.5,228.2 Z" fill="#66676a" stroke-width="1.3"/>
<path d="M634,223.6 L647.6,220.6 L648.6,223.2 L634.4,226.6 Z" fill="#bcbec0" stroke="none"/>
<path d="M640.5,225 L638.8,242 M644.5,224 L643.2,240.4" fill="none" stroke-width="1.2" stroke-dasharray="3 1.2"/>
</g>
<path d="M604,176.6 C615,176.4 630,177.2 649,180" fill="none" stroke="#fff" stroke-width="2.4"/>
<path d="M606,182.4 C618,182 632,183 650,186" fill="none" stroke="#fff" stroke-width="2.6"/>
<path d="M574.6,181.8 C590,179.5 610,178.6 627.5,179.8 C660,182 690,190 719.8,200.5" fill="none" stroke="#231f20" stroke-width="3.7" stroke-linecap="round"/>
</g>


</svg>
</body>
</html>
